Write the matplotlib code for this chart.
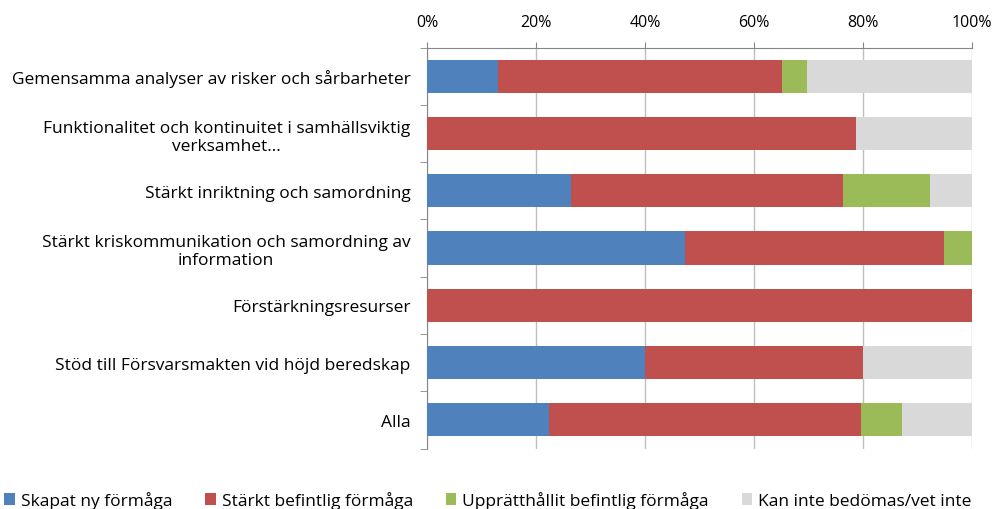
import numpy as np
import matplotlib.pyplot as plt
from matplotlib.ticker import PercentFormatter, FixedLocator

categories = [
    "Gemensamma analyser av risker och sårbarheter",
    "Funktionalitet och kontinuitet i samhällsviktig\nverksamhet…",
    "Stärkt inriktning och samordning",
    "Stärkt kriskommunikation och samordning av\ninformation",
    "Förstärkningsresurser",
    "Stöd till Försvarsmakten vid höjd beredskap",
    "Alla",
]
series = ["Skapat ny förmåga", "Stärkt befintlig förmåga",
          "Upprätthållit befintlig förmåga", "Kan inte bedömas/vet inte"]
skapat = [13.1, 0.0, 26.4, 47.3, 0.0, 40.0, 22.3]
starkt = [52.1, 78.7, 50.0, 47.5, 100.0, 40.0, 57.4]
uppratt = [4.5, 0.0, 15.8, 5.2, 0.0, 0.0, 7.4]
kan_inte = [30.3, 21.3, 7.8, 0.0, 0.0, 20.0, 12.9]
colors = ["#4F81BD", "#C0504D", "#9BBB59", "#D9D9D9"]

plt.rcParams['font.family'] = ['Open Sans', 'DejaVu Sans']

fig = plt.figure(figsize=(9.96, 5.10), dpi=100)
ax = fig.add_axes([0.4287, 0.1186, 0.5473, 0.786])

y = np.arange(len(categories))
left = np.zeros(len(categories))
for vals, name, c in zip([skapat, starkt, uppratt, kan_inte], series, colors):
    ax.barh(y, vals, left=left, height=0.58, color=c, label=name, zorder=3)
    left += np.array(vals)

ax.set_xlim(0, 100)
ax.set_ylim(len(categories) - 0.5, -0.5)
ax.xaxis.set_major_locator(FixedLocator([0, 20, 40, 60, 80, 100]))
ax.xaxis.set_major_formatter(PercentFormatter(decimals=0))
ax.xaxis.tick_top()
ax.tick_params(axis='x', length=4, color='#868686', labelsize=11.5, pad=9)
ax.grid(axis='x', color='#BFBFBF', linewidth=1, zorder=0)

ax.set_yticks(y)
ax.set_yticklabels(categories, fontsize=12.5, multialignment='center')
ax.tick_params(axis='y', length=0, pad=12)
ax.set_yticks(np.arange(-0.5, len(categories)), minor=True)
ax.tick_params(axis='y', which='minor', length=5, color='#868686')

for s in ['right', 'bottom']:
    ax.spines[s].set_visible(False)
for s in ['top', 'left']:
    ax.spines[s].set_color('#868686')

fig.legend(loc='lower center', bbox_to_anchor=(0.49, -0.03), ncol=4,
           frameon=False, fontsize=12.5, handlelength=0.6, handleheight=0.7,
           handletextpad=0.35, columnspacing=1.9)

fig.savefig("out.png", dpi=100)
